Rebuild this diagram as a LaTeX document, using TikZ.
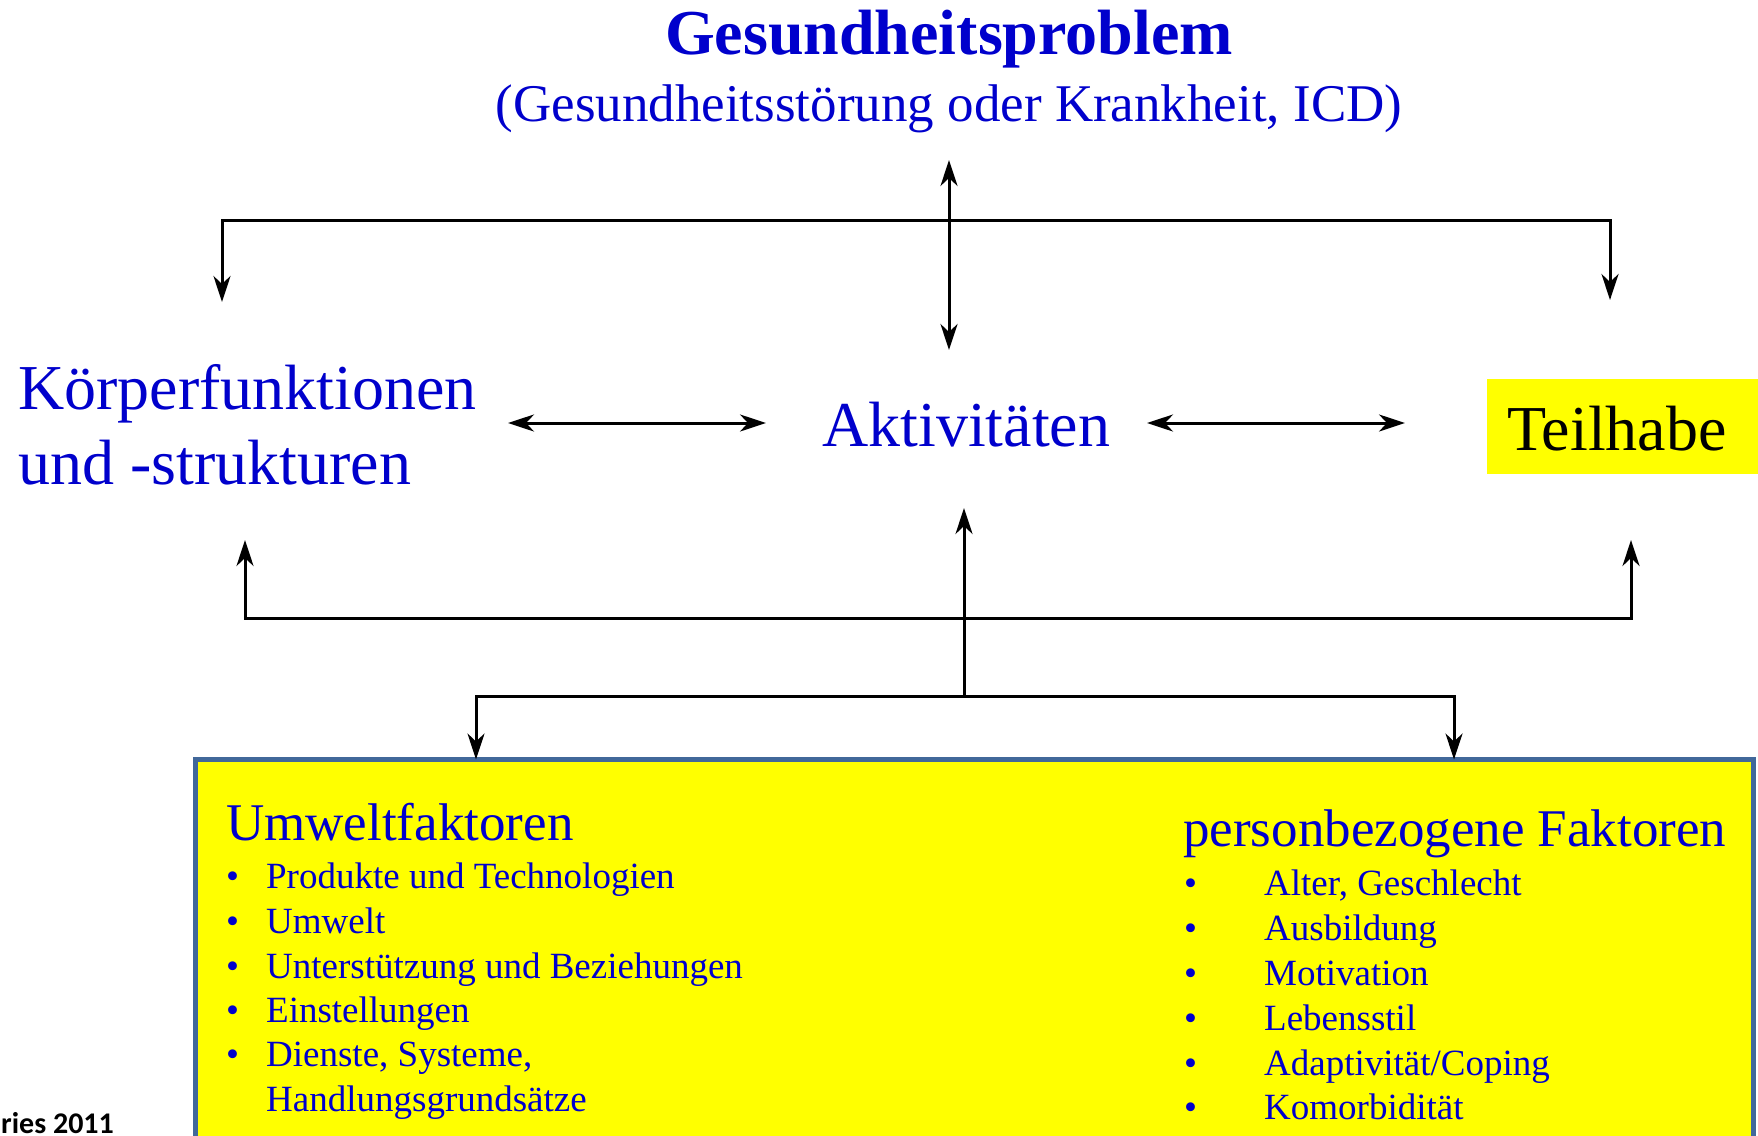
\documentclass[tikz,border=0pt]{standalone}
\usepackage{fontspec}
\setmainfont{Liberation Serif}
\newfontfamily\calib{Carlito}
\usetikzlibrary{arrows.meta}
\definecolor{tblue}{RGB}{0,0,204}
\definecolor{tyellow}{RGB}{255,255,0}
\definecolor{tborder}{RGB}{65,104,154}
\begin{document}
\begin{tikzpicture}[x=1pt,y=-1pt,
  txt/.style={inner sep=0pt, anchor=base west, text=tblue},
  conn/.style={line width=3pt, black},
  tip/.style={-{Stealth[length=26pt,width=17pt,inset=8pt]}},
  dtip/.style={{Stealth[length=26pt,width=17pt,inset=8pt]}-{Stealth[length=26pt,width=17pt,inset=8pt]}},
  big/.style={font=\fontsize{64pt}{74pt}\selectfont},
  mid/.style={font=\fontsize{53pt}{60pt}\selectfont},
  item/.style={txt, font=\fontsize{37pt}{44pt}\selectfont}]
\useasboundingbox (0,0) rectangle (1758,1135);

% boxes
\node[draw=tborder, line width=5pt, fill=tyellow, inner sep=0pt, outer sep=0pt, anchor=north west,
      minimum width=1558pt, minimum height=420pt] (envbox) at (195.5,759.5) {};
\node[fill=tyellow, inner sep=0pt, outer sep=0pt, anchor=north west,
      minimum width=272pt, minimum height=95pt] (teilbox) at (1487,379) {};

% texts
\node[inner sep=0pt, anchor=base, text=tblue, font=\bfseries\fontsize{64pt}{74pt}\selectfont] (gp) at (949,54) {Gesundheitsproblem};
\node[inner sep=0pt, anchor=base, text=tblue, mid] (gp2) at (949,121) {(Gesundheitsstörung oder Krankheit, ICD)};
\node[txt, big] (k1) at (18,409) {Körperfunktionen};
\node[txt, big] (k2) at (18,484) {und -strukturen};
\node[txt, big] (akt) at (822,446) {Aktivitäten};
\node[inner sep=0pt, anchor=base west, text=black, big] (teil) at (1507,450) {Teilhabe};

\node[txt, mid] (umw) at (226,840) {Umweltfaktoren};
\node[item] (u1) at (226,888) {\makebox[40pt][l]{•}Produkte und Technologien};
\node[item] (u2) at (226,933) {\makebox[40pt][l]{•}Umwelt};
\node[item] (u3) at (226,978) {\makebox[40pt][l]{•}Unterstützung und Beziehungen};
\node[item] (u4) at (226,1022) {\makebox[40pt][l]{•}Einstellungen};
\node[item] (u5) at (226,1066) {\makebox[40pt][l]{•}Dienste, Systeme,};
\node[item] (u6) at (266,1111) {Handlungsgrundsätze};

\node[txt, mid] (pers) at (1183,846) {personbezogene Faktoren};
\node[item] (p1) at (1184,895) {\makebox[80pt][l]{•}Alter, Geschlecht};
\node[item] (p2) at (1184,940) {\makebox[80pt][l]{•}Ausbildung};
\node[item] (p3) at (1184,985) {\makebox[80pt][l]{•}Motivation};
\node[item] (p4) at (1184,1030) {\makebox[80pt][l]{•}Lebensstil};
\node[item] (p5) at (1184,1075) {\makebox[80pt][l]{•}Adaptivität/Coping};
\node[item] (p6) at (1184,1119) {\makebox[80pt][l]{•}Komorbidität};

\node[inner sep=0pt, anchor=base west, text=black, font=\calib\bfseries\fontsize{30pt}{34pt}\selectfont] (src) at (1,1133) {ries 2011};

% coordinates
\coordinate (gpT) at (949,160);
\coordinate (gpB) at (949,350);
\coordinate (tl) at (222,220);
\coordinate (tr) at (1610,220);
\coordinate (tlE) at (222,302);
\coordinate (trE) at (1610,300);
\coordinate (lL) at (508,423);
\coordinate (lR) at (766,423);
\coordinate (rL) at (1147,423);
\coordinate (rR) at (1405,423);
\coordinate (bl) at (245,618);
\coordinate (br) at (1631,618);
\coordinate (blE) at (245,540);
\coordinate (brE) at (1631,540);
\coordinate (cB) at (964,696);
\coordinate (cT) at (964,508);
\coordinate (ll) at (476,696);
\coordinate (lr) at (1454,696);

% connectors
\draw[conn, dtip] (gpT) -- (gpB);
\draw[conn, tip] (tr) -- (tl) -- (tlE);
\draw[conn, tip] (tl) -- (tr) -- (trE);
\draw[conn, dtip] (lL) -- (lR);
\draw[conn, dtip] (rL) -- (rR);
\draw[conn, tip] (br) -- (bl) -- (blE);
\draw[conn, tip] (bl) -- (br) -- (brE);
\draw[conn, tip] (cB) -- (cT);
\draw[conn, tip] (lr) -- (ll) -- (ll |- envbox.north);
\draw[conn, tip] (ll) -- (lr) -- (lr |- envbox.north);
\end{tikzpicture}
\end{document}
